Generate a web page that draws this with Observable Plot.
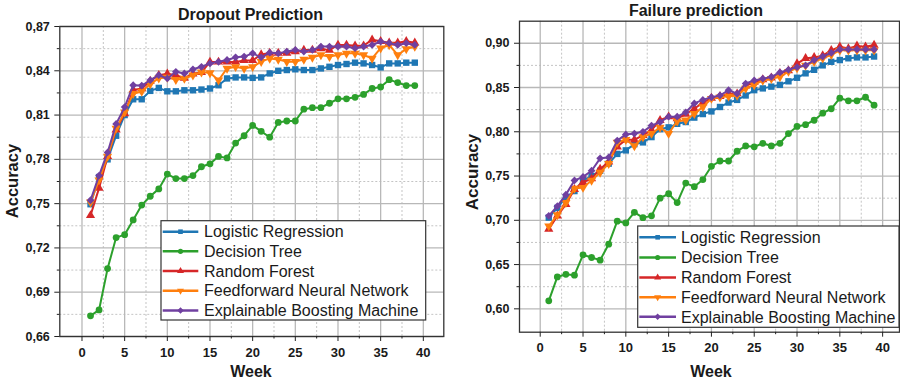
<!DOCTYPE html>
<html><head><meta charset="utf-8">
<script src="https://cdn.jsdelivr.net/npm/d3@7"></script>
<script src="https://cdn.jsdelivr.net/npm/@observablehq/plot@0.6"></script>
<style>
body{margin:0;background:#fff;font-family:"Liberation Sans",Arial,sans-serif;}
#wrap{display:flex;width:900px;height:384px;overflow:hidden;}
svg{display:block;flex:none;}
</style></head><body><div id="wrap"></div>
<script>
const weeks = [1,2,3,4,5,6,7,8,9,10,11,12,13,14,15,16,17,18,19,20,21,22,23,24,25,26,27,28,29,30,31,32,33,34,35,36,37,38,39];
const models = ["Logistic Regression","Decision Tree","Random Forest","Feedforward Neural Network","Explainable Boosting Machine"];
const colors = ["#1f77b4","#2ca02c","#d62728","#ff7f0e","#7040a0"];

// Dropout prediction
const dropoutLR  = [0.7496,0.768,0.780,0.796,0.810,0.8207,0.8207,0.8264,0.8284,0.8261,0.8261,0.8268,0.8268,0.8273,0.828,0.8302,0.8348,0.8355,0.8355,0.8352,0.8355,0.8382,0.840,0.8405,0.841,0.8405,0.8405,0.8416,0.8427,0.8439,0.8446,0.8455,0.845,0.8439,0.8423,0.845,0.845,0.8455,0.8455];
const dropoutDT  = [0.674,0.678,0.706,0.727,0.729,0.739,0.749,0.755,0.760,0.770,0.767,0.767,0.769,0.775,0.777,0.782,0.781,0.791,0.796,0.803,0.799,0.795,0.805,0.806,0.806,0.814,0.815,0.815,0.818,0.821,0.821,0.822,0.824,0.828,0.829,0.834,0.832,0.830,0.830];
const dropoutRF  = [0.742,0.7605,0.782,0.800,0.811,0.827,0.828,0.833,0.837,0.838,0.837,0.835,0.838,0.839,0.846,0.846,0.846,0.846,0.847,0.847,0.851,0.852,0.852,0.852,0.853,0.854,0.854,0.855,0.854,0.8575,0.8575,0.857,0.857,0.861,0.860,0.859,0.859,0.860,0.859];
const dropoutFNN = [0.751,0.766,0.782,0.801,0.812,0.8245,0.826,0.831,0.835,0.8355,0.834,0.8348,0.837,0.839,0.8386,0.8336,0.8416,0.8427,0.8416,0.8427,0.8462,0.8484,0.8477,0.8462,0.8462,0.8477,0.8491,0.8507,0.8496,0.8507,0.8518,0.8518,0.8507,0.8484,0.8553,0.8575,0.8507,0.8548,0.8564];
const dropoutEBM = [0.7523,0.769,0.7847,0.804,0.8154,0.8302,0.830,0.8336,0.837,0.8348,0.8393,0.8382,0.841,0.8427,0.845,0.8461,0.8473,0.8491,0.8496,0.8518,0.8491,0.8523,0.8518,0.853,0.8541,0.853,0.8541,0.8564,0.8564,0.8564,0.8564,0.8553,0.8564,0.8575,0.8598,0.8587,0.8575,0.8587,0.8575];

// Failure prediction
const failureLR  = [0.703,0.714,0.726,0.733,0.745,0.750,0.756,0.764,0.775,0.779,0.786,0.788,0.794,0.803,0.805,0.809,0.811,0.816,0.820,0.823,0.828,0.833,0.836,0.841,0.847,0.849,0.851,0.853,0.857,0.861,0.866,0.870,0.875,0.879,0.881,0.883,0.884,0.884,0.885];
const failureDT  = [0.609,0.636,0.639,0.638,0.661,0.658,0.655,0.673,0.699,0.697,0.709,0.703,0.705,0.725,0.730,0.720,0.742,0.738,0.746,0.761,0.767,0.767,0.778,0.784,0.783,0.787,0.784,0.787,0.798,0.806,0.808,0.813,0.821,0.826,0.838,0.835,0.835,0.839,0.830];
const failureRF  = [0.690,0.705,0.718,0.735,0.743,0.747,0.758,0.766,0.783,0.791,0.791,0.796,0.802,0.813,0.817,0.815,0.820,0.826,0.833,0.838,0.840,0.843,0.843,0.852,0.856,0.859,0.861,0.866,0.869,0.877,0.883,0.884,0.886,0.892,0.896,0.894,0.897,0.896,0.898];
const failureFNN = [0.6935,0.706,0.720,0.736,0.737,0.745,0.754,0.764,0.788,0.791,0.784,0.794,0.798,0.805,0.798,0.812,0.813,0.8205,0.828,0.8375,0.839,0.840,0.841,0.849,0.853,0.858,0.860,0.862,0.868,0.872,0.875,0.879,0.883,0.887,0.892,0.892,0.892,0.892,0.892];
const failureEBM = [0.705,0.716,0.729,0.745,0.749,0.756,0.770,0.771,0.790,0.797,0.798,0.800,0.807,0.811,0.817,0.817,0.822,0.832,0.836,0.839,0.841,0.847,0.843,0.8545,0.858,0.860,0.862,0.867,0.870,0.873,0.875,0.881,0.885,0.889,0.893,0.893,0.893,0.893,0.893];

// tick values
const xMajor = [0,5,10,15,20,25,30,35,40];
const xMinor = [2.5,7.5,12.5,17.5,22.5,27.5,32.5,37.5];
const dropoutYMajor = [0.66,0.69,0.72,0.75,0.78,0.81,0.84,0.87];
const dropoutYMinor = [0.675,0.705,0.735,0.765,0.795,0.825,0.855];
const failureYMajor = [0.60,0.65,0.70,0.75,0.80,0.85,0.90];
const failureYMinor = [0.625,0.675,0.725,0.775,0.825,0.875];

const triDown = {draw(ctx, size) {
  const y = -Math.sqrt(size / (Math.sqrt(3) * 3));
  const s3 = Math.sqrt(3);
  ctx.moveTo(0, -y * 2); ctx.lineTo(-s3 * y, y); ctx.lineTo(s3 * y, y); ctx.closePath();
}};
const symbols = ["square","circle","triangle",triDown,"diamond2"];
const d3Symbols = [d3.symbolSquare, d3.symbolCircle, d3.symbolTriangle, triDown, d3.symbolSquare];
const radii = [3.6,3.4,3.4,3.4,3.5];

function chart(o) {
  const marks = [
    Plot.ruleX(xMinor, {stroke:"#c4c4c4", strokeWidth:1, strokeDasharray:"2,2"}),
    Plot.ruleY(o.yMinor, {stroke:"#c4c4c4", strokeWidth:1, strokeDasharray:"2,2"}),
    Plot.ruleX(xMajor, {stroke:"#b8b8b8", strokeWidth:1.3}),
    Plot.ruleY(o.yMajor, {stroke:"#b8b8b8", strokeWidth:1.3})
  ];
  o.series.forEach((vals, i) => {
    const rows = weeks.map((w, j) => ({week: w, acc: vals[j]}));
    marks.push(Plot.line(rows, {x:"week", y:"acc", stroke: colors[i], strokeWidth: 2}));
    marks.push(Plot.dot(rows, {x:"week", y:"acc", symbol: symbols[i], fill: colors[i], r: radii[i], stroke: "none"}));
  });
  marks.push(Plot.frame({stroke:"#333", strokeWidth:1.3}));
  marks.push(Plot.axisX(xMajor, {tickSize:5, tickPadding:o.xPad, fontSize:13, fontWeight:"bold", tickFormat: d => String(d), label:null, stroke:"#222"}));
  marks.push(Plot.axisX(xMinor, {tickSize:2.5, tickFormat: () => "", label:null, stroke:"#222"}));
  marks.push(Plot.axisY(o.yMajor, {tickSize:5, tickPadding:5, fontSize:12.5, fontWeight:"bold", tickFormat: d => d.toFixed(2).replace(".", ","), label:null, stroke:"#222"}));
  marks.push(Plot.axisY(o.yMinor, {tickSize:2.5, tickFormat: () => "", label:null, stroke:"#222"}));
  const svg = Plot.plot({
    width: 450, height: 384,
    marginLeft: o.mL, marginRight: o.mR, marginTop: o.mT, marginBottom: o.mB,
    x: {domain: o.xDomain, label: null},
    y: {domain: o.yDomain, label: null},
    style: {fontFamily: "Liberation Sans, Arial, sans-serif", color: "#1a1a1a", background: "white", overflow: "visible"},
    marks
  });
  const s = d3.select(svg);
  s.append("text").attr("x", o.title.x).attr("y", o.title.y).attr("text-anchor","middle")
    .attr("font-size",16).attr("font-weight","bold").attr("fill","#1a1a1a").text(o.title.text);
  s.append("text").attr("transform", `translate(${o.ylab.x},${o.ylab.y}) rotate(-90)`).attr("text-anchor","middle")
    .attr("font-size",o.ylab.size).attr("font-weight","bold").attr("fill","#1a1a1a").text("Accuracy");
  s.append("text").attr("x", o.xlab.x).attr("y", o.xlab.y).attr("text-anchor","middle")
    .attr("font-size",16).attr("font-weight","bold").attr("fill","#1a1a1a").text("Week");
  const L = o.legend;
  const g = s.append("g").attr("text-anchor","start");
  g.append("rect").attr("x", L.x0).attr("y", L.y0).attr("width", L.x1 - L.x0).attr("height", L.y1 - L.y0)
    .attr("fill","white").attr("stroke","#333").attr("stroke-width",1.2);
  models.forEach((m, i) => {
    const cy = L.rows[i];
    const cx = (L.lx0 + L.lx1) / 2;
    g.append("line").attr("x1", L.lx0).attr("x2", L.lx1).attr("y1", cy).attr("y2", cy)
      .attr("stroke", colors[i]).attr("stroke-width", 2.5);
    g.append("path")
      .attr("d", d3.symbol().type(d3Symbols[i]).size(Math.PI * 2.6 * 2.6)())
      .attr("fill", colors[i]).attr("transform", `translate(${cx},${cy})` + (i === 4 ? " rotate(45)" : ""));
    g.append("text").attr("x", L.tx).attr("y", cy + 5.7).attr("text-anchor","start")
      .attr("font-size", 16).attr("fill","#1a1a1a").text(m);
  });
  return svg;
}

const wrap = document.getElementById("wrap");
wrap.appendChild(chart({
  mL: 59.3, mR: 450 - 443.3, mT: 26, mB: 48,
  xDomain: [-2.6, 42.4], yDomain: [0.66, 0.87],
  yMajor: dropoutYMajor, yMinor: dropoutYMinor, xPad: 6.5,
  series: [dropoutLR, dropoutDT, dropoutRF, dropoutFNN, dropoutEBM],
  title: {text: "Dropout Prediction", x: 250.5, y: 20},
  ylab: {x: 18.3, y: 181, size: 16.5},
  xlab: {x: 251, y: 377.4},
  legend: {x0: 161, x1: 425.7, y0: 220.7, y1: 320, lx0: 162.7, lx1: 198.3, tx: 204, rows: [231.7, 251.3, 271, 290.7, 310.5]}
}));
wrap.appendChild(chart({
  mL: 69, mR: 1, mT: 20.7, mB: 384 - 331.7,
  xDomain: [-2.42, 41.97], yDomain: [0.5736, 0.9249],
  yMajor: failureYMajor, yMinor: failureYMinor, xPad: 5.5,
  series: [failureLR, failureDT, failureRF, failureFNN, failureEBM],
  title: {text: "Failure prediction", x: 246, y: 15.7},
  ylab: {x: 28.3, y: 172, size: 17},
  xlab: {x: 261, y: 377},
  legend: {x0: 187.7, x1: 449, y0: 226, y1: 327.3, lx0: 189.3, lx1: 226, tx: 231, rows: [237.3, 257.5, 277.5, 297.3, 316.8]}
}));
</script></body></html>
